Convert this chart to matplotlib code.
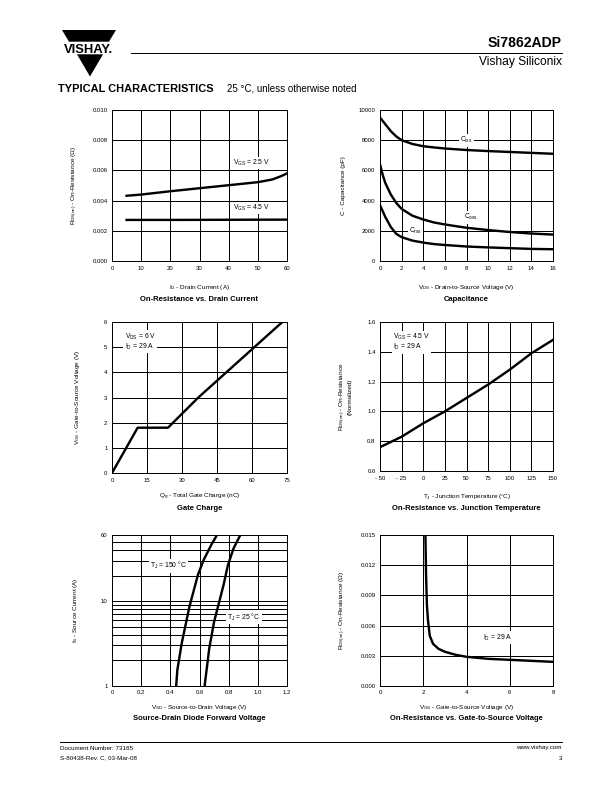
import matplotlib
matplotlib.use("Agg")
import matplotlib.pyplot as plt
from matplotlib.patches import Polygon
from matplotlib.lines import Line2D

plt.rcParams['font.family'] = ['Liberation Sans', 'DejaVu Sans']
plt.rcParams['mathtext.fontset'] = 'custom'
plt.rcParams['mathtext.rm'] = 'Liberation Sans'
plt.rcParams['mathtext.it'] = 'Liberation Sans:italic'
plt.rcParams['mathtext.bf'] = 'Liberation Sans:bold'

# ---------------- data ----------------
# 1. On-resistance vs drain current
id_a = [5, 10, 20, 30, 40, 50, 55, 58, 60]
rds_25 = [0.00432, 0.00440, 0.00462, 0.00482, 0.00502, 0.00522, 0.00540, 0.00562, 0.00580]
id_b = [5, 20, 40, 60]
rds_45 = [0.00272, 0.00272, 0.00273, 0.00274]

# 2. Capacitance
vds = [0, 0.25, 0.5, 1, 1.5, 2, 3, 4, 5, 6, 8, 10, 12, 14, 16]
ciss = [9500, 9280, 9050, 8600, 8250, 8000, 7750, 7600, 7520, 7450, 7350, 7280, 7220, 7160, 7100]
coss = [6400, 5700, 5150, 4400, 3850, 3450, 3000, 2750, 2550, 2420, 2200, 2050, 1920, 1820, 1750]
crss = [3700, 3300, 2900, 2250, 1800, 1580, 1350, 1220, 1120, 1060, 960, 900, 850, 800, 780]

# 3. Gate charge
qg = [0, 11, 24, 37, 49, 61, 73]
vgs_qg = [0, 1.8, 1.8, 3.0, 4.0, 5.0, 6.0]

# 4. On-resistance vs junction temperature
tj = [-50, -25, 0, 25, 50, 75, 100, 125, 150]
rds_norm = [0.76, 0.83, 0.92, 1.00, 1.09, 1.18, 1.28, 1.39, 1.48]
tj_labels = ['- 50', '- 25', '0', '25', '50', '75', '100', '125', '150']

# 5. Source-drain diode forward voltage
vsd_150 = [0.44, 0.448, 0.478, 0.531, 0.589, 0.628, 0.68, 0.72]
is_150 = [1, 1.54, 3.18, 8.6, 20.3, 30.4, 45.7, 60]
vsd_25 = [0.635, 0.667, 0.70, 0.765, 0.795, 0.834, 0.88]
is_25 = [1, 2.78, 5.7, 15.5, 26.6, 41.9, 60]

# 6. On-resistance vs gate-to-source voltage
vgs6 = [2.1, 2.13, 2.17, 2.22, 2.3, 2.45, 2.7, 3.0, 3.5, 4.0, 5.0, 6.0, 7.0, 8.0]
rds6 = [0.015, 0.011, 0.008, 0.0065, 0.005, 0.0042, 0.0037, 0.0034, 0.0031, 0.0029, 0.0027, 0.0026, 0.0025, 0.0024]

# ---------------- figure ----------------
W, H = 612, 792
fig = plt.figure(figsize=(W / 72, H / 72), dpi=72)

def fx(x):
    return x / W

def fy(y):
    return 1 - y / H

def txt(x, y, s, **kw):
    kw.setdefault('ha', 'left')
    kw.setdefault('va', 'center')
    fig.text(fx(x), fy(y), s, **kw)

TICK = 6.0
LAB = 6.4
NOTE = 6.8
SUB = 7.6
LW = 2.4
GRID = 1.0

def make_ax(l, t, r, b):
    ax = fig.add_axes([fx(l), fy(b), (r - l) / W, (b - t) / H])
    for s in ax.spines.values():
        s.set_linewidth(GRID)
    ax.tick_params(length=0, labelsize=TICK, pad=4.5)
    ax.grid(True, color='black', linewidth=GRID)
    ax.set_axisbelow(True)
    return ax

bbox = dict(facecolor='white', edgecolor='none', pad=1.2)

def note(ax, x, y, s, ha='center'):
    ax.text(x, y, s, fontsize=NOTE, ha=ha, va='center', bbox=bbox, zorder=5, linespacing=1.0)

# ---- header ----
logo_top = Polygon([(fx(62), fy(30)), (fx(116), fy(30)), (fx(109), fy(41.7)), (fx(69), fy(41.7))],
                   closed=True, transform=fig.transFigure, facecolor='black', edgecolor='none')
logo_bot = Polygon([(fx(77), fy(54.3)), (fx(103), fy(54.3)), (fx(90), fy(76.5))],
                   closed=True, transform=fig.transFigure, facecolor='black', edgecolor='none')
fig.patches.extend([logo_top, logo_bot])
txt(88, 53.3, 'VISHAY.', ha='center', va='baseline', fontsize=13, fontweight='bold')
fig.add_artist(Line2D([fx(131), fx(562)], [fy(53.3), fy(53.3)], color='black', linewidth=1.0,
                      transform=fig.transFigure))
txt(562, 43, 'Si7862ADP', ha='right', fontsize=14, fontweight='bold')
txt(562, 62, 'Vishay Siliconix', ha='right', fontsize=12)
txt(58.5, 88.5, 'TYPICAL CHARACTERISTICS', fontsize=11.0, fontweight='heavy')
txt(227, 88.5, '25 °C, unless otherwise noted', fontsize=9.8)

# ---- footer ----
fig.add_artist(Line2D([fx(60), fx(562)], [fy(741.5), fy(741.5)], color='black', linewidth=1.0,
                      transform=fig.transFigure))
txt(60, 748, 'Document Number: 73165', fontsize=6.3)
txt(60, 758, 'S-80438-Rev. C, 03-Mar-08', fontsize=6.3)
txt(562, 748, 'www.vishay.com', ha='right', fontsize=6.3)
txt(562, 758, '3', ha='right', fontsize=6.3)

# ---- chart 1 ----
ax1 = make_ax(112, 110, 287, 261)
ax1.plot(id_a, rds_25, color='black', lw=LW, zorder=3)
ax1.plot(id_b, rds_45, color='black', lw=LW, zorder=3)
ax1.set_xlim(0, 60)
ax1.set_ylim(0, 0.010)
ax1.set_xticks(range(0, 61, 10))
ax1.set_yticks([0, 0.002, 0.004, 0.006, 0.008, 0.010])
ax1.set_yticklabels(['0.000', '0.002', '0.004', '0.006', '0.008', '0.010'])
note(ax1, 47.7, 0.0065, r'V$_{\mathregular{GS}}$ = 2.5 V')
note(ax1, 47.7, 0.0035, r'V$_{\mathregular{GS}}$ = 4.5 V')
txt(199.5, 287, r'I$_{\mathregular{D}}$ - Drain Current (A)', ha='center', fontsize=LAB)
txt(199.5, 299, 'On-Resistance vs. Drain Current', ha='center', fontsize=SUB, fontweight='bold')
txt(75, 185.5, r'R$_{\mathregular{DS(on)}}$ - On-Resistance ($\Omega$)', ha='center', rotation=90, fontsize=LAB)

# ---- chart 2 ----
ax2 = make_ax(380, 110, 553, 261)
for c in (ciss, coss, crss):
    ax2.plot(vds, c, color='black', lw=LW, zorder=3)
ax2.set_xlim(0, 16)
ax2.set_ylim(0, 10000)
ax2.set_xticks(range(0, 17, 2))
ax2.set_yticks(range(0, 10001, 2000))
note(ax2, 8.0, 8000, r'C$_{\mathregular{iss}}$')
note(ax2, 8.4, 2900, r'C$_{\mathregular{oss}}$')
note(ax2, 3.3, 2000, r'C$_{\mathregular{rss}}$')
txt(466.5, 287, r'V$_{\mathregular{DS}}$ - Drain-to-Source Voltage (V)', ha='center', fontsize=LAB)
txt(466.5, 299, 'Capacitance', ha='center', fontsize=SUB, fontweight='bold')
txt(343, 185.5, 'C - Capacitance (pF)', ha='center', rotation=90, fontsize=LAB)

# ---- chart 3 ----
ax3 = make_ax(112, 322, 287, 473)
ax3.plot(qg, vgs_qg, color='black', lw=LW, zorder=3)
ax3.set_xlim(0, 75)
ax3.set_ylim(0, 6)
ax3.set_xticks(range(0, 76, 15))
ax3.set_yticks(range(0, 7))
note(ax3, 5.4, 5.22, 'V$_{\\mathregular{DS}}$ = 6 V\nI$_{\\mathregular{D}}$ = 29 A', ha='left')
txt(199.5, 497, r'Q$_{\mathregular{g}}$ - Total Gate Charge (nC)', ha='center', fontsize=LAB)
txt(199.5, 509, 'Gate Charge', ha='center', fontsize=SUB, fontweight='bold')
txt(77, 397.5, r'V$_{\mathregular{GS}}$ - Gate-to-Source Voltage (V)', ha='center', rotation=90, fontsize=LAB)

# ---- chart 4 ----
ax4 = make_ax(380, 322, 553, 471)
ax4.plot(tj, rds_norm, color='black', lw=LW, zorder=3)
ax4.set_xlim(-50, 150)
ax4.set_ylim(0.6, 1.6)
ax4.set_xticks(tj)
ax4.set_xticklabels(tj_labels)
ax4.set_yticks([0.6, 0.8, 1.0, 1.2, 1.4, 1.6])
ax4.set_yticklabels(['0.6', '0.8', '1.0', '1.2', '1.4', '1.6'])
note(ax4, -35, 1.465, 'V$_{\\mathregular{GS}}$ = 4.5 V\nI$_{\\mathregular{D}}$ = 29 A', ha='left')
txt(466.5, 497, r'T$_{\mathregular{J}}$ - Junction Temperature ($\mathregular{^{\circ}}$C)', ha='center', fontsize=LAB)
txt(466.5, 509, 'On-Resistance vs. Junction Temperature', ha='center', fontsize=SUB, fontweight='bold')
txt(345, 396.5, 'R$_{\\mathregular{DS(on)}}$ - On-Resistance\n(Normalized)', ha='center', rotation=90,
    fontsize=LAB, linespacing=1.05)

# ---- chart 5 ----
ax5 = make_ax(112, 535, 287, 686)
ax5.set_yscale('log')
ax5.plot(vsd_150, is_150, color='black', lw=LW, zorder=3)
ax5.plot(vsd_25, is_25, color='black', lw=LW, zorder=3)
ax5.set_xlim(0, 1.2)
ax5.set_ylim(1, 60)
ax5.set_xticks([0, 0.2, 0.4, 0.6, 0.8, 1.0, 1.2])
ax5.set_xticklabels(['0', '0.2', '0.4', '0.6', '0.8', '1.0', '1.2'])
ax5.set_yticks([1, 10, 60])
ax5.set_yticklabels(['1', '10', '60'])
ax5.set_yticks([2, 3, 4, 5, 6, 7, 8, 9, 20, 30, 40, 50], minor=True)
ax5.tick_params(which='minor', length=0, labelleft=False)
ax5.grid(True, which='both', axis='y', color='black', linewidth=GRID)
note(ax5, 0.386, 26, r'T$_{\mathregular{J}}$ = 150 °C')
note(ax5, 0.905, 6.5, r'T$_{\mathregular{J}}$ = 25 °C')
txt(199.5, 708, r'V$_{\mathregular{SD}}$ - Source-to-Drain Voltage (V)', ha='center', fontsize=LAB)
txt(199.5, 719, 'Source-Drain Diode Forward Voltage', ha='center', fontsize=SUB, fontweight='bold')
txt(76, 610.5, r'I$_{\mathregular{S}}$ - Source Current (A)', ha='center', rotation=90, fontsize=LAB)

# ---- chart 6 ----
ax6 = make_ax(380, 535, 553, 686)
ax6.plot(vgs6, rds6, color='black', lw=LW, zorder=3)
ax6.set_xlim(0, 8)
ax6.set_ylim(0, 0.015)
ax6.set_xticks(range(0, 9, 2))
ax6.set_yticks([0, 0.003, 0.006, 0.009, 0.012, 0.015])
ax6.set_yticklabels(['0.000', '0.003', '0.006', '0.009', '0.012', '0.015'])
note(ax6, 5.43, 0.0048, r'I$_{\mathregular{D}}$ = 29 A')
txt(466.5, 708, r'V$_{\mathregular{GS}}$ - Gate-to-Source Voltage (V)', ha='center', fontsize=LAB)
txt(466.5, 719, 'On-Resistance vs. Gate-to-Source Voltage', ha='center', fontsize=SUB, fontweight='bold')
txt(343, 610.5, r'R$_{\mathregular{DS(on)}}$ - On-Resistance ($\Omega$)', ha='center', rotation=90, fontsize=LAB)

fig.savefig('out.png', dpi=72)
